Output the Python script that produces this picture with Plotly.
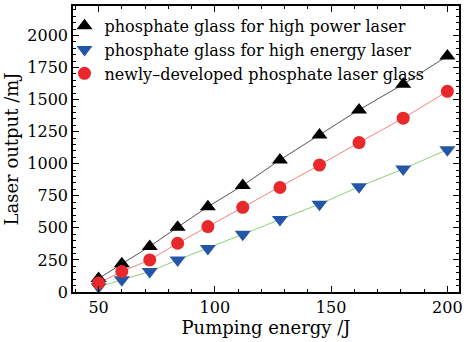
import plotly.graph_objects as go

pump_energy = [50, 60, 72, 84, 97, 112, 128, 145, 162, 181, 200]
high_power = [105, 220, 355, 505, 665, 830, 1030, 1225, 1420, 1620, 1840]
high_energy = [40, 95, 160, 250, 340, 450, 565, 685, 820, 960, 1110]
newly_dev = [70, 160, 250, 380, 510, 660, 815, 990, 1165, 1355, 1565]

names = ["phosphate glass for high power laser",
         "phosphate glass for high energy laser",
         "newly\u2013developed phosphate laser glass"]
series = [high_power, high_energy, newly_dev]
line_colors = ["#555555", "#8fd07a", "#f4837d"]
marker_colors = ["#000000", "#2456a8", "#e8282a"]
symbols = ["triangle-up", "triangle-down", "circle"]
sizes = [14, 14, 13]

FONT = "DejaVu Serif"
fig = go.Figure()
for ys, lc in zip(series, line_colors):
    fig.add_trace(go.Scatter(x=pump_energy, y=ys, mode="lines",
                             line=dict(color=lc, width=1), showlegend=False,
                             hoverinfo="skip"))
for name, ys, mc, sym, sz in zip(names, series, marker_colors, symbols, sizes):
    fig.add_trace(go.Scatter(x=pump_energy, y=ys, mode="markers", name=name,
                             marker=dict(color=mc, symbol=sym, size=sz,
                                         line=dict(width=0))))

axis_common = dict(showline=True, linecolor="black", linewidth=1.5, mirror="ticks",
                   ticks="inside", ticklen=6, tickcolor="black", showgrid=False,
                   zeroline=False, tickfont=dict(family=FONT, size=16, color="black"))
fig.update_xaxes(range=[39, 205], tickvals=[50, 100, 150, 200], **axis_common,
                 minor=dict(dtick=10, tick0=0, ticks="inside", ticklen=3, tickcolor="black"),
                 title=dict(text="Pumping energy /J", font=dict(family=FONT, size=18, color="black"),
                            standoff=3))
fig.update_yaxes(range=[0, 2230], dtick=250, tick0=0, **axis_common,
                 minor=dict(dtick=50, tick0=0, ticks="inside", ticklen=3, tickcolor="black"),
                 title=dict(text="Laser output /mJ", font=dict(family=FONT, size=18, color="black"),
                            standoff=4))
fig.update_layout(width=467, height=342, margin=dict(l=73, r=8, t=4, b=50),
                  paper_bgcolor="white", plot_bgcolor="white",
                  legend=dict(x=-0.022, y=0.99, xanchor="left", yanchor="top",
                              bgcolor="rgba(0,0,0,0)", tracegroupgap=0,
                              font=dict(family=FONT, size=16, color="black"),
                              itemwidth=30))
fig.write_html("out.html", config={"displayModeBar": False},
               post_script="document.body.style.margin='0';")
